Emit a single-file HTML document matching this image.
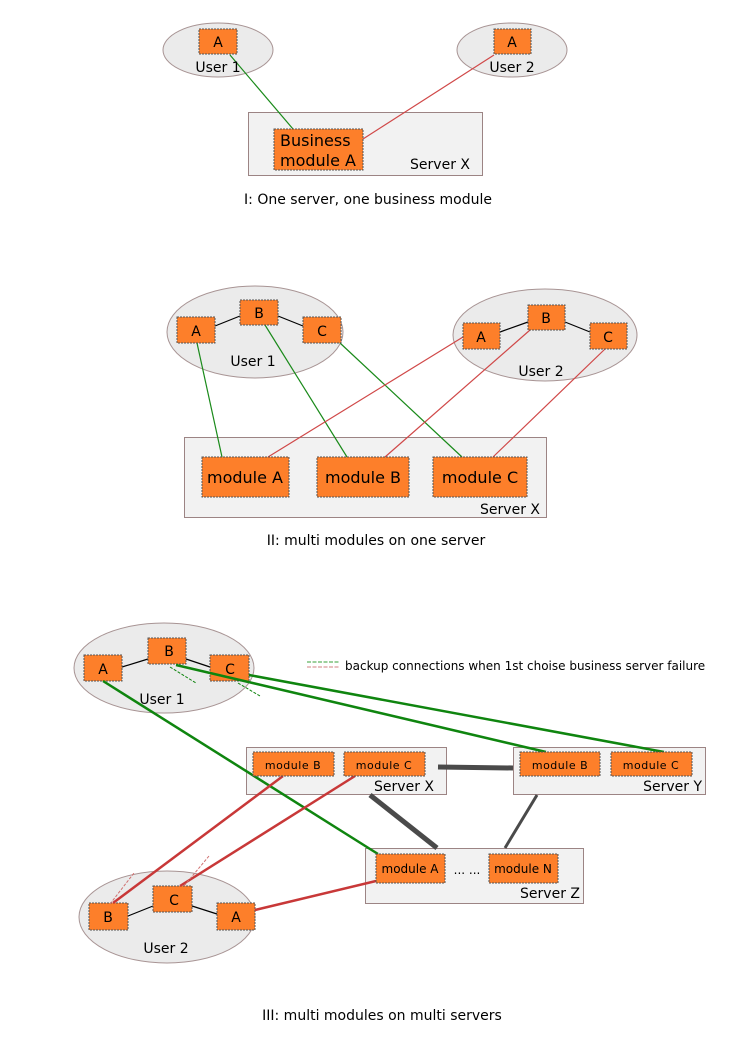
<!DOCTYPE html>
<html><head><meta charset="utf-8"><style>
html,body{margin:0;padding:0;background:#fff;}
svg{display:block;}
text{font-family:"DejaVu Sans","Liberation Sans",sans-serif;fill:#000;}
.u{fill:#ebebeb;stroke:#a89494;stroke-width:1;}
.s{fill:#f2f2f2;stroke:#9c8484;stroke-width:1;}
.m{fill:#fd7f2a;stroke:#555;stroke-width:1;stroke-dasharray:2,1;}
</style></head><body>
<svg width="744" height="1052" viewBox="0 0 744 1052" xmlns="http://www.w3.org/2000/svg">
<!-- Section I -->
<ellipse class="u" cx="218" cy="50" rx="55" ry="27"/>
<ellipse class="u" cx="512" cy="50" rx="55" ry="27"/>
<rect class="s" x="248.5" y="112.5" width="234" height="63"/>
<line x1="230" y1="55" x2="293" y2="129" stroke="#1a8a1a" stroke-width="1.2"/>
<line x1="494" y1="55" x2="363" y2="139" stroke="#d04848" stroke-width="1.2"/>
<rect class="m" x="199" y="29" width="38" height="25"/>
<text x="218" y="47" font-size="14" text-anchor="middle">A</text>
<text x="218" y="72" font-size="14" text-anchor="middle">User 1</text>
<rect class="m" x="494" y="29" width="37" height="25"/>
<text x="512" y="47" font-size="14" text-anchor="middle">A</text>
<text x="512" y="72" font-size="14" text-anchor="middle">User 2</text>
<rect class="m" x="274" y="129" width="89" height="41"/>
<text x="280" y="146" font-size="16">Business</text>
<text x="280" y="166" font-size="16">module A</text>
<text x="470" y="169" font-size="14" text-anchor="end">Server X</text>
<text x="368" y="204" font-size="14" text-anchor="middle">I: One server, one business module</text>

<!-- Section II -->
<ellipse class="u" cx="255" cy="332" rx="88" ry="46"/>
<ellipse class="u" cx="545" cy="335" rx="92" ry="46"/>
<rect class="s" x="184.5" y="437.5" width="362" height="80"/>
<line x1="215" y1="326" x2="240" y2="316" stroke="#000" stroke-width="1.2"/>
<line x1="278" y1="316" x2="303" y2="326" stroke="#000" stroke-width="1.2"/>
<line x1="500" y1="332" x2="528" y2="322" stroke="#000" stroke-width="1.2"/>
<line x1="565" y1="322" x2="590" y2="332" stroke="#000" stroke-width="1.2"/>
<g stroke="#1a8a1a" stroke-width="1.2">
<line x1="197" y1="343" x2="222" y2="457"/>
<line x1="265" y1="325" x2="347" y2="457"/>
<line x1="340" y1="343" x2="462" y2="457"/>
</g>
<g stroke="#d04848" stroke-width="1.2">
<line x1="463" y1="337" x2="268" y2="457"/>
<line x1="530" y1="330" x2="385" y2="457"/>
<line x1="605" y1="349" x2="493" y2="457"/>
</g>
<rect class="m" x="177" y="317" width="38" height="26"/><text x="196" y="336" font-size="14" text-anchor="middle">A</text>
<rect class="m" x="240" y="300" width="38" height="25"/><text x="259" y="318" font-size="14" text-anchor="middle">B</text>
<rect class="m" x="303" y="317" width="38" height="26"/><text x="322" y="336" font-size="14" text-anchor="middle">C</text>
<text x="253" y="366" font-size="14" text-anchor="middle">User 1</text>
<rect class="m" x="463" y="323" width="37" height="26"/><text x="481" y="342" font-size="14" text-anchor="middle">A</text>
<rect class="m" x="528" y="305" width="37" height="25"/><text x="546" y="323" font-size="14" text-anchor="middle">B</text>
<rect class="m" x="590" y="323" width="37" height="26"/><text x="608" y="342" font-size="14" text-anchor="middle">C</text>
<text x="541" y="376" font-size="14" text-anchor="middle">User 2</text>
<rect class="m" x="202" y="457" width="87" height="40"/><text x="245" y="483" font-size="16" text-anchor="middle">module A</text>
<rect class="m" x="317" y="457" width="92" height="40"/><text x="363" y="483" font-size="16" text-anchor="middle">module B</text>
<rect class="m" x="433" y="457" width="94" height="40"/><text x="480" y="483" font-size="16" text-anchor="middle">module C</text>
<text x="540" y="514" font-size="14" text-anchor="end">Server X</text>
<text x="376" y="545" font-size="14" text-anchor="middle">II: multi modules on one server</text>

<!-- Section III -->
<ellipse class="u" cx="164" cy="668" rx="90" ry="45"/>
<ellipse class="u" cx="167" cy="917" rx="88" ry="46"/>
<rect class="s" x="246.5" y="747.5" width="200" height="47"/>
<rect class="s" x="513.5" y="747.5" width="192" height="47"/>
<rect class="s" x="365.5" y="848.5" width="218" height="55"/>
<g stroke="#4a4a4a">
<line x1="438" y1="767" x2="513" y2="768" stroke-width="5"/>
<line x1="370" y1="795" x2="437" y2="848" stroke-width="5"/>
<line x1="537" y1="795" x2="505" y2="848" stroke-width="3"/>
</g>
<line x1="122" y1="667" x2="148" y2="659" stroke="#000" stroke-width="1.2"/>
<line x1="186" y1="659" x2="210" y2="667" stroke="#000" stroke-width="1.2"/>
<line x1="128" y1="916" x2="153" y2="906" stroke="#000" stroke-width="1.2"/>
<line x1="192" y1="906" x2="217" y2="914" stroke="#000" stroke-width="1.2"/>
<!-- legend -->
<line x1="307" y1="662" x2="339" y2="662" stroke="#3aa03a" stroke-width="1" stroke-dasharray="4,1.5"/>
<line x1="307" y1="667" x2="339" y2="667" stroke="#d08080" stroke-width="1" stroke-dasharray="4,1.5"/>
<text x="345" y="670" font-size="12">backup connections when 1st choise business server failure</text>
<rect class="m" x="84" y="655" width="38" height="26"/><text x="103" y="674" font-size="14" text-anchor="middle">A</text>
<rect class="m" x="148" y="638" width="38" height="26"/><text x="169" y="656" font-size="14" text-anchor="middle">B</text>
<rect class="m" x="210" y="655" width="39" height="26"/><text x="230" y="674" font-size="14" text-anchor="middle">C</text>
<text x="162" y="704" font-size="14" text-anchor="middle">User 1</text>
<rect class="m" x="89" y="903" width="39" height="27"/><text x="108" y="922" font-size="14" text-anchor="middle">B</text>
<rect class="m" x="153" y="886" width="39" height="26"/><text x="174" y="905" font-size="14" text-anchor="middle">C</text>
<rect class="m" x="217" y="903" width="38" height="27"/><text x="236" y="922" font-size="14" text-anchor="middle">A</text>
<text x="166" y="953" font-size="14" text-anchor="middle">User 2</text>
<g stroke="#0f850f" stroke-width="2.5">
<line x1="103" y1="681" x2="378" y2="854"/>
<line x1="176" y1="665" x2="546" y2="752"/>
<line x1="249" y1="675" x2="664" y2="752"/>
</g>
<g stroke="#0f850f" stroke-width="1" stroke-dasharray="3,1.5">
<line x1="170" y1="667" x2="196" y2="683"/>
<line x1="238" y1="683" x2="260" y2="696"/>
</g>
<g stroke="#c83838" stroke-width="2.5">
<line x1="113" y1="903" x2="283" y2="776"/>
<line x1="180" y1="886" x2="355" y2="776"/>
<line x1="255" y1="910" x2="376" y2="881"/>
</g>
<g stroke="#d07070" stroke-width="1" stroke-dasharray="3,1.5">
<line x1="110" y1="904" x2="134" y2="873"/>
<line x1="184" y1="886" x2="209" y2="856"/>
</g>
<rect class="m" x="253" y="752" width="81" height="24"/><text x="293" y="769" font-size="11" text-anchor="middle" letter-spacing="0.5">module B</text>
<rect class="m" x="344" y="752" width="81" height="24"/><text x="384" y="769" font-size="11" text-anchor="middle" letter-spacing="0.5">module C</text>
<text x="434" y="791" font-size="14" text-anchor="end">Server X</text>
<rect class="m" x="520" y="752" width="80" height="24"/><text x="560" y="769" font-size="11" text-anchor="middle" letter-spacing="0.5">module B</text>
<rect class="m" x="611" y="752" width="81" height="24"/><text x="651" y="769" font-size="11" text-anchor="middle" letter-spacing="0.5">module C</text>
<text x="702" y="791" font-size="14" text-anchor="end">Server Y</text>
<rect class="m" x="376" y="854" width="69" height="29"/><text x="410" y="873" font-size="12" text-anchor="middle">module A</text>
<text x="467" y="874" font-size="12" text-anchor="middle">... ...</text>
<rect class="m" x="489" y="854" width="69" height="29"/><text x="523" y="873" font-size="12" text-anchor="middle">module N</text>
<text x="580" y="898" font-size="14" text-anchor="end">Server Z</text>
<text x="382" y="1020" font-size="14" text-anchor="middle">III: multi modules on multi servers</text>
</svg>
</body></html>
